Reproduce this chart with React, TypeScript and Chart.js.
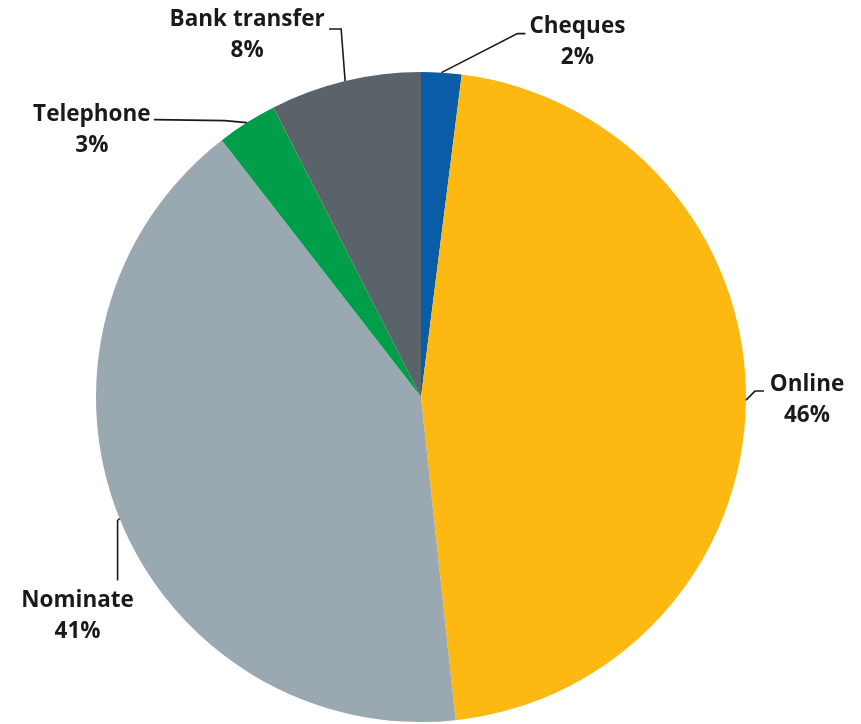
import React, { useEffect, useRef } from "react";
import { Chart, registerables } from "chart.js";

Chart.register(...registerables);

const categories = ["Cheques", "Online", "Nominate", "Telephone", "Bank transfer"];
const shares = [2.0, 46.3, 41.2, 3.0, 7.5];
const colors = ["#0B5CA6", "#FDB812", "#9AA8B1", "#009E49", "#5B636A"];

// Label layout: leader path points and text position, as offsets from the slice's outer mid-point
const labelLayout = [
  { path: [[0, 0], [76, -39], [84, -39]], text: [136, -40], align: "center" },
  { path: [[0, 0], [9, -9], [18, -9]], text: [61, -9], align: "center" },
  { path: [[0, 0], [-2, 2], [-2, 62]], text: [-42, 88], align: "center" },
  { path: [[0, 0], [-22, -2], [-93, -3]], text: [-155, -2], align: "center" },
  { path: [[0, 0], [-4, -52], [-16, -52]], text: [-98, -55], align: "center" },
];

const FONT = "bold 22.5px 'Open Sans'";
const LINE_GAP = 31;

const labelPlugin = {
  id: "leaderLabels",
  afterDraw(chart: any) {
    const ctx = chart.ctx;
    const meta = chart.getDatasetMeta(0);
    const data = chart.data.datasets[0].data as number[];
    const total = data.reduce((a, b) => a + b, 0);
    ctx.save();
    meta.data.forEach((arc: any, i: number) => {
      const { x, y, startAngle, endAngle, outerRadius } = arc.getProps(
        ["x", "y", "startAngle", "endAngle", "outerRadius"],
        true
      );
      const mid = (startAngle + endAngle) / 2;
      const ax = x + Math.cos(mid) * outerRadius;
      const ay = y + Math.sin(mid) * outerRadius;
      const lay = labelLayout[i];
      ctx.strokeStyle = "#1a1a1a";
      ctx.lineWidth = 1.6;
      ctx.beginPath();
      lay.path.forEach((p: number[], k: number) => {
        if (k === 0) ctx.moveTo(ax + p[0], ay + p[1]);
        else ctx.lineTo(ax + p[0], ay + p[1]);
      });
      ctx.stroke();
      ctx.fillStyle = "#1a1a1a";
      ctx.font = FONT;
      ctx.textAlign = lay.align;
      ctx.textBaseline = "alphabetic";
      const tx = ax + lay.text[0];
      const ty = ay + lay.text[1];
      const pct = Math.round((data[i] / total) * 100) + "%";
      ctx.fillText(chart.data.labels[i], tx, ty);
      ctx.fillText(pct, tx, ty + LINE_GAP);
    });
    ctx.restore();
  },
};

export default function App() {
  const ref = useRef<HTMLCanvasElement | null>(null);
  useEffect(() => {
    if (!ref.current) return;
    const chart = new Chart(ref.current, {
      type: "pie",
      data: {
        labels: categories,
        datasets: [
          {
            data: shares,
            backgroundColor: colors,
            borderWidth: 0,
          },
        ],
      },
      options: {
        responsive: false,
        animation: false,
        layout: { padding: { left: 96, right: 115, top: 72, bottom: 2 } },
        plugins: {
          legend: { display: false },
          tooltip: { enabled: false },
        },
      },
      plugins: [labelPlugin],
    });
    return () => chart.destroy();
  }, []);
  return (
    <div style={{ position: "absolute", left: 0, top: 0, width: 861, height: 724, background: "#fff" }}>
      <canvas ref={ref} width={861} height={724} style={{ display: "block" }} />
    </div>
  );
}
